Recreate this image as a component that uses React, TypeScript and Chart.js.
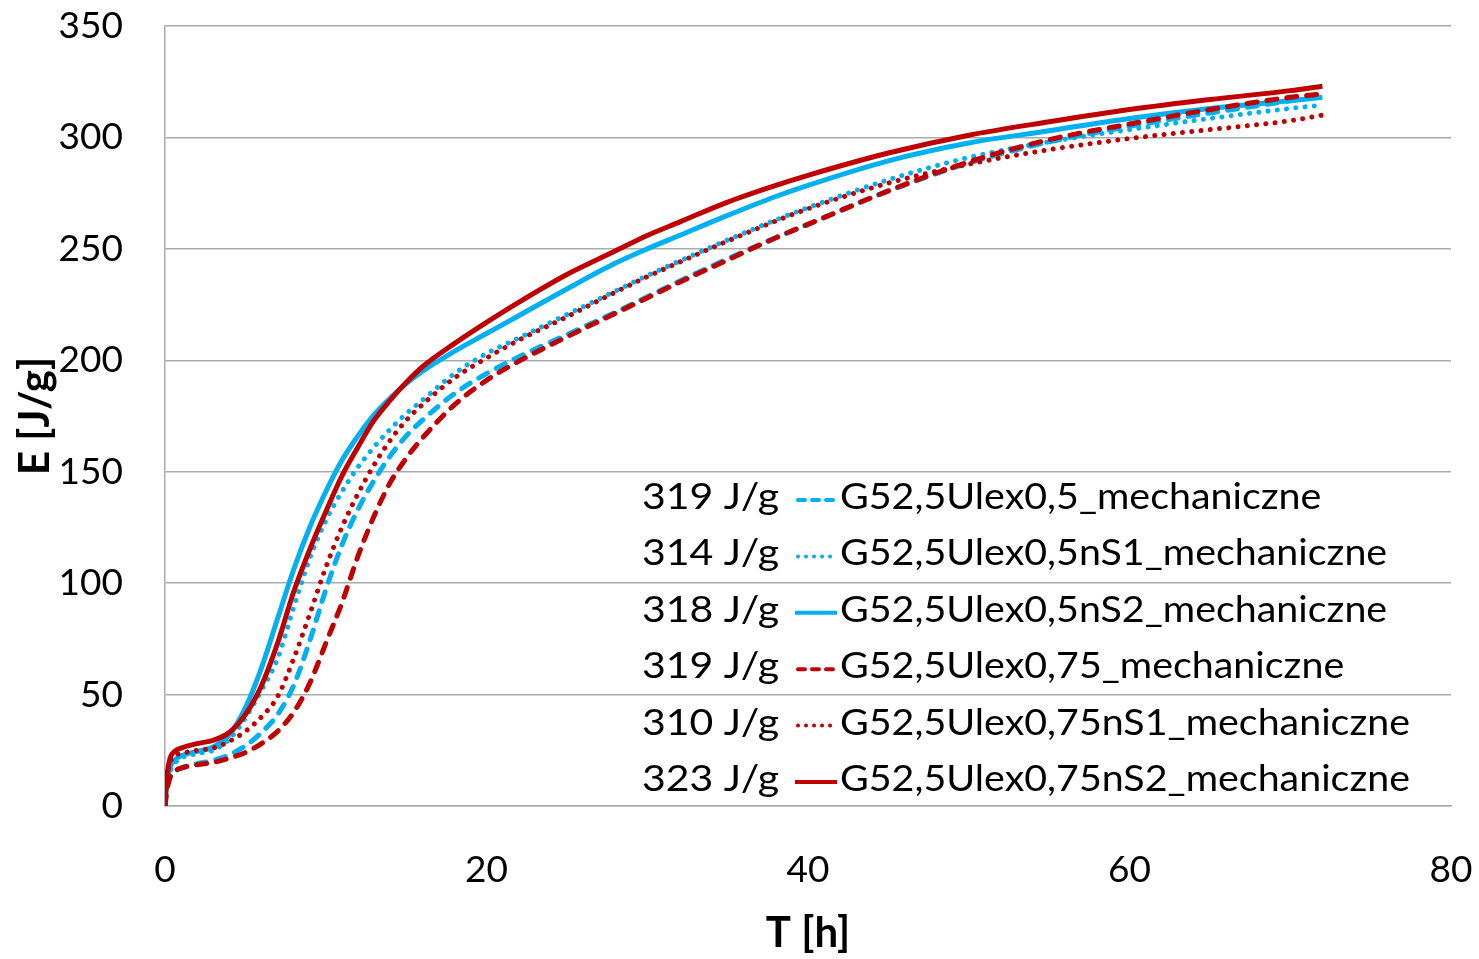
import React, { useEffect, useRef } from 'react';
import { Chart, registerables } from 'chart.js';

Chart.register(...registerables);

// Time [h]
const hours = [0, 0.1, 0.3, 0.6, 1, 2, 3, 4, 5, 6, 7, 8, 9, 10, 11, 12, 13, 14, 15, 16, 18, 20, 22, 25, 28, 30, 32, 35, 38, 40, 45, 50, 55, 60, 65, 70, 72];

// E [J/g]
const e05 = [0, 7, 13, 15.5, 17, 19, 20.5, 23, 27, 33, 41, 54, 74, 97, 117, 133, 146, 157, 166, 173, 185, 194, 201.5, 211.5, 221.5, 228.5, 235.5, 245.5, 255, 261, 276, 288.5, 298, 305, 311, 316.5, 319];
const e05nS1 = [0, 8, 15, 19, 21.5, 23.5, 25, 30, 39.5, 52, 66, 89, 111, 128, 141, 152, 161, 169, 176, 182, 194, 203, 210, 220.5, 231, 238, 244.5, 254, 263, 268.5, 281, 291, 298, 303.5, 308.5, 313, 314.5];
const e05nS2 = [0, 9, 17, 20.5, 22.5, 24.5, 26.5, 32, 44, 62, 84, 106, 125, 141, 155, 166, 175.5, 183, 189.5, 195, 204, 212, 220, 232, 243.5, 250, 256, 265, 273.5, 278.5, 289.5, 297.5, 303, 308.5, 313, 316.5, 318];
const e075 = [0, 6, 12.5, 15.5, 17, 18.5, 19.5, 21.5, 24, 28, 33.5, 42, 55, 73, 91, 112, 130, 145, 156, 165, 180, 191, 199.5, 210.5, 221, 228, 235, 245, 255, 261, 276, 289, 299, 306, 312.5, 318, 319.5];
const e075nS1 = [0, 10, 19, 22.5, 23.5, 25, 26, 29, 33.5, 40, 49, 66, 86, 107, 125, 140, 153, 164, 173, 180, 192, 201, 209, 219.5, 230.5, 237.5, 244, 253.5, 262.5, 268, 279.5, 288, 294.5, 299.5, 303.5, 307.5, 310];
const e075nS2 = [0, 12, 21, 24.5, 26, 28, 29.5, 33, 41, 54, 73, 96, 115, 132, 148, 161, 173, 182, 190, 197, 207.5, 217, 226, 238.5, 249, 256, 262, 271, 278.5, 283, 293, 301, 307, 312.5, 317, 321, 323];

const seriesNames = [
  'G52,5Ulex0,5_mechaniczne',
  'G52,5Ulex0,5nS1_mechaniczne',
  'G52,5Ulex0,5nS2_mechaniczne',
  'G52,5Ulex0,75_mechaniczne',
  'G52,5Ulex0,75nS1_mechaniczne',
  'G52,5Ulex0,75nS2_mechaniczne',
];
const finalLabels = ['319 J/g', '314 J/g', '318 J/g', '319 J/g', '310 J/g', '323 J/g'];
const seriesValues = [e05, e05nS1, e05nS2, e075, e075nS1, e075nS2];

const BLUE = '#00B0F0';
const RED = '#C00000';
const colors = [BLUE, BLUE, BLUE, RED, RED, RED];
const styles = ['dash', 'dot', 'solid', 'dash', 'dot', 'solid'];

const FONT = 'Lato, "Open Sans", sans-serif';
const GRID = '#ABABAB';

function dashFor(style: string): number[] {
  if (style === 'dash') return [10, 10];
  if (style === 'dot') return [0.01, 9.3];
  return [];
}

function legendDashFor(style: string): number[] {
  if (style === 'dash') return [7, 7];
  if (style === 'dot') return [0.01, 8];
  return [];
}

const legendPlugin = {
  id: 'valueLegend',
  afterDraw(chart: any) {
    const ctx: CanvasRenderingContext2D = chart.ctx;
    ctx.save();
    ctx.font = `36px ${FONT}`;
    ctx.fillStyle = '#000';
    ctx.textBaseline = 'alphabetic';
    ctx.textAlign = 'left';
    const nameScale = 570 / ctx.measureText(seriesNames[5]).width;
    const valScale = 137 / ctx.measureText(finalLabels[5]).width;
    for (let i = 0; i < seriesNames.length; i++) {
      const y = 509 + i * 56.4;
      ctx.save();
      ctx.translate(642, y);
      ctx.scale(valScale, 1);
      ctx.fillText(finalLabels[i], 0, 0);
      ctx.restore();

      ctx.save();
      ctx.strokeStyle = colors[i];
      ctx.lineWidth = 4;
      ctx.lineCap = styles[i] === 'solid' ? 'butt' : 'round';
      ctx.setLineDash(legendDashFor(styles[i]));
      ctx.beginPath();
      ctx.moveTo(styles[i] === 'solid' ? 795 : 798, y - 9);
      ctx.lineTo(styles[i] === 'solid' ? 837 : 834, y - 9);
      ctx.stroke();
      ctx.restore();

      ctx.save();
      ctx.translate(840, y);
      ctx.scale(nameScale, 1);
      ctx.fillText(seriesNames[i], 0, 0);
      ctx.restore();
    }
    ctx.restore();
  },
};

export default function App() {
  const canvasRef = useRef<HTMLCanvasElement | null>(null);

  useEffect(() => {
    const canvas = canvasRef.current;
    if (!canvas) return;
    const datasets = seriesValues.map((vals, i) => ({
      label: seriesNames[i],
      data: hours.map((t, k) => ({ x: t, y: vals[k] })),
      borderColor: colors[i],
      backgroundColor: colors[i],
      borderWidth: 5,
      borderDash: dashFor(styles[i]),
      borderCapStyle: styles[i] === 'solid' ? 'butt' : 'round',
      pointRadius: 0,
      fill: false,
      cubicInterpolationMode: 'monotone',
      order: 6 - i,
    }));

    const chart = new Chart(canvas, {
      type: 'line',
      data: { datasets } as any,
      options: {
        animation: false,
        responsive: false,
        maintainAspectRatio: false,
        layout: { padding: { left: 0, right: 28, top: 26, bottom: 0 } },
        plugins: {
          legend: { display: false },
          tooltip: { enabled: false },
        },
        scales: {
          x: {
            type: 'linear',
            min: 0,
            max: 80,
            ticks: {
              stepSize: 20,
              color: '#000',
              font: { family: FONT, size: 37 },
              padding: 2,
              maxRotation: 0,
            },
            grid: {
              display: true,
              drawOnChartArea: false,
              drawTicks: true,
              tickLength: 40,
              color: 'rgba(0,0,0,0)',
              tickColor: 'rgba(0,0,0,0)',
            },
            border: { display: true, color: GRID, width: 1.5 },
            title: {
              display: true,
              text: 'T [h]',
              color: '#000',
              font: { family: FONT, size: 42, weight: 'bold' },
              padding: { top: 0, bottom: 0 },
            },
            afterFit(scale: any) {
              scale.height = 153;
            },
          },
          y: {
            type: 'linear',
            min: 0,
            max: 350,
            ticks: {
              stepSize: 50,
              color: '#000',
              font: { family: FONT, size: 37 },
              padding: 2,
            },
            grid: {
              display: true,
              color: GRID,
              lineWidth: 1.5,
              drawTicks: true,
              tickLength: 40,
              tickColor: 'rgba(0,0,0,0)',
            },
            border: { display: true, color: GRID, width: 1.5 },
            title: {
              display: true,
              text: 'E [J/g]',
              color: '#000',
              font: { family: FONT, size: 42, weight: 'bold' },
              padding: { top: 10, bottom: 0 },
            },
            afterFit(scale: any) {
              scale.width = 165;
            },
          },
        },
      } as any,
      plugins: [legendPlugin],
    });
    return () => chart.destroy();
  }, []);

  return (
    <div style={{ position: 'fixed', left: 0, top: 0, width: 1479, height: 959, background: '#fff' }}>
      <canvas ref={canvasRef} width={1479} height={959} style={{ width: 1479, height: 959, display: 'block' }} />
    </div>
  );
}
